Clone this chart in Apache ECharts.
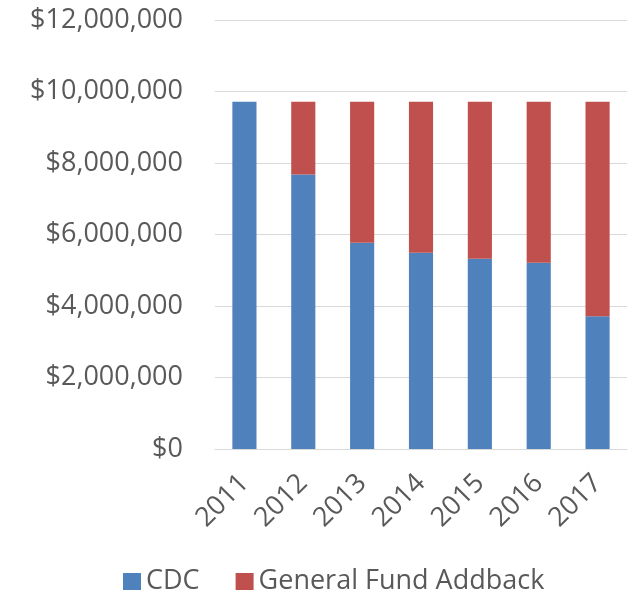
<!DOCTYPE html>
<html>
<head>
<meta charset="utf-8">
<script src="https://cdn.jsdelivr.net/npm/echarts@6/dist/echarts.min.js"></script>
<style>html,body{margin:0;padding:0;background:#fff}#c{width:635px;height:602px}</style>
</head>
<body>
<div id="c"></div>
<script>
const categories = ['2011','2012','2013','2014','2015','2016','2017'];
const cdc = [9710000, 7680000, 5770000, 5490000, 5320000, 5210000, 3710000];
const addback = [0, 2030000, 3940000, 4220000, 4390000, 4500000, 6000000];
const seriesNames = ['CDC', 'General Fund Addback'];

function money(v){ return '$' + v.toLocaleString('en-US'); }

const chart = echarts.init(document.getElementById('c'), null, {renderer:'canvas'});
const font = "'Open Sans', 'Liberation Sans', sans-serif";
chart.setOption({
  animation: false,
  textStyle: { fontFamily: font },
  grid: { left: 215, right: 8, top: 20, bottom: 153 },
  legend: {
    bottom: 2, left: 118,
    itemWidth: 18, itemHeight: 17, itemGap: 36,
    icon: 'rect',
    textStyle: { fontSize: 27, color: '#595959', fontFamily: font },
    data: seriesNames
  },
  xAxis: {
    type: 'category', data: categories,
    axisLine: { lineStyle: { color: '#D9D9D9', width: 1 } },
    axisTick: { show: false },
    axisLabel: { rotate: 45, fontSize: 27, color: '#595959', margin: 30, fontFamily: font }
  },
  yAxis: {
    type: 'value', min: 0, max: 12000000, interval: 2000000,
    axisLine: { show: false }, axisTick: { show: false },
    splitLine: { lineStyle: { color: '#D9D9D9', width: 1 } },
    axisLabel: { formatter: money, fontSize: 27, color: '#595959', margin: 32, fontFamily: font }
  },
  series: [
    { name: seriesNames[0], type: 'bar', stack: 't', data: cdc, barWidth: '41%', itemStyle: { color: '#4F81BD' } },
    { name: seriesNames[1], type: 'bar', stack: 't', data: addback, barWidth: '41%', itemStyle: { color: '#C0504D' } }
  ]
});
</script>
</body>
</html>
